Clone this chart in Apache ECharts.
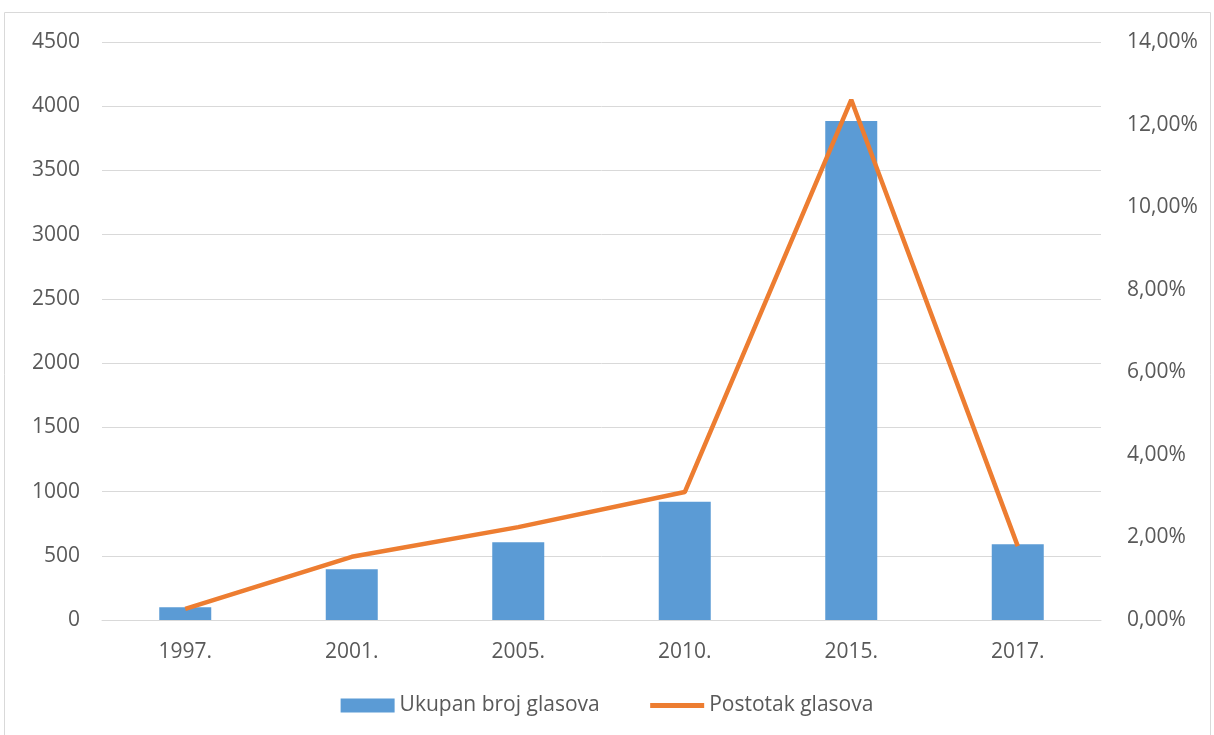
<!DOCTYPE html>
<html><head><meta charset="utf-8">
<script src="https://cdn.jsdelivr.net/npm/echarts@6/dist/echarts.min.js"></script>
<style>html,body{margin:0;padding:0;background:#fff}#c{width:1214px;height:735px}</style>
</head><body><div id="c"></div>
<script>
const categories = ['1997.', '2001.', '2005.', '2010.', '2015.', '2017.'];
const totalVotes = [100, 395, 605, 920, 3885, 590];
const votePercent = [0.27, 1.53, 2.25, 3.10, 12.60, 1.79];
const leftTicks = { min: 0, max: 4500, interval: 500 };
const rightTicks = { min: 0, max: 14, interval: 2 };

const font = 'Open Sans';
const txt = '#595959';
const fs = 21;
const chart = echarts.init(document.getElementById('c'));
chart.setOption({
  animation: false,
  textStyle: { fontFamily: font },
  graphic: [{ type: 'rect', shape: { x: 4.5, y: 12.5, width: 1206, height: 730 }, style: { fill: 'none', stroke: '#d9d9d9', lineWidth: 1 } }],
  grid: { left: 102, right: 113, top: 42, bottom: 115 },
  legend: {
    bottom: 14, left: 'center', itemGap: 48, itemWidth: 54, itemHeight: 14,
    textStyle: { color: txt, fontSize: fs, fontFamily: font },
    data: [
      { name: 'Ukupan broj glasova', icon: 'rect' },
      { name: 'Postotak glasova', itemStyle: { opacity: 0 }, lineStyle: { width: 5, color: '#ED7D31' } }
    ]
  },
  xAxis: {
    type: 'category', data: categories,
    axisLine: { lineStyle: { color: '#d9d9d9' } }, axisTick: { show: false },
    axisLabel: { color: txt, fontSize: fs, margin: 22, fontFamily: font }
  },
  yAxis: [
    { type: 'value', min: leftTicks.min, max: leftTicks.max, interval: leftTicks.interval,
      axisLabel: { color: txt, fontSize: fs, margin: 22, fontFamily: font, formatter: v => String(v) },
      splitLine: { lineStyle: { color: '#d9d9d9' } }, axisLine: { show: false }, axisTick: { show: false } },
    { type: 'value', min: rightTicks.min, max: rightTicks.max, interval: rightTicks.interval,
      axisLabel: { color: txt, fontSize: fs, margin: 26, fontFamily: font,
        formatter: v => v.toFixed(2).replace('.', ',') + '%' },
      splitLine: { show: false }, axisLine: { show: false }, axisTick: { show: false } }
  ],
  series: [
    { name: 'Ukupan broj glasova', type: 'bar', data: totalVotes, barWidth: 52,
      itemStyle: { color: '#5B9BD5' } },
    { name: 'Postotak glasova', type: 'line', yAxisIndex: 1, data: votePercent,
      symbol: 'none', lineStyle: { color: '#ED7D31', width: 4.5 }, itemStyle: { color: '#ED7D31' } }
  ]
});
</script></body></html>
